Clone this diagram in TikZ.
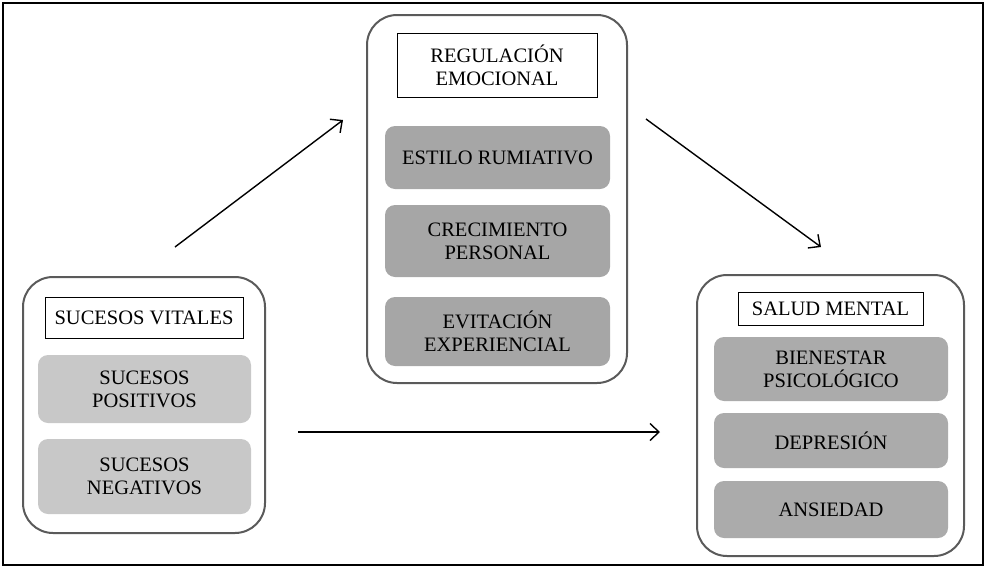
\documentclass[tikz,border=0pt]{standalone}
\usepackage{fontspec}
\setmainfont{Liberation Serif}
\usetikzlibrary{arrows.meta}
\definecolor{grisclaro}{RGB}{200,200,200}
\definecolor{grisoscuro}{RGB}{166,166,166}
\definecolor{grismedio}{RGB}{171,171,171}
\definecolor{borde}{RGB}{90,90,90}
\begin{document}
\begin{tikzpicture}[x=1pt,y=-1pt,
    grupo/.style={draw=borde,line width=2pt,rounded corners=30pt,inner sep=0pt},
    titulo/.style={draw=black,line width=0.9pt,fill=white,align=center,inner sep=0pt,
        font=\fontsize{20.5}{23}\selectfont},
    var/.style={rounded corners=10pt,align=center,inner sep=0pt,
        font=\fontsize{20.5}{23}\selectfont},
    flecha/.style={-{Straight Barb[length=9pt,width=17pt,line width=1.4pt]},line width=1.4pt}]
    \useasboundingbox (0,0) rectangle (986,568);
    \draw[line width=1.2pt] (3,3) rectangle (983,565);

    % the groups
    \node[grupo,minimum width=242pt,minimum height=256pt] (vitales) at (144,405) {};
    \node[grupo,minimum width=260pt,minimum height=368pt] (regulacion) at (497,199) {};
    \node[grupo,minimum width=267pt,minimum height=281pt] (salud) at (830.5,415.5) {};

    % the titles
    \node[titulo,minimum width=198pt,minimum height=41pt] (tvitales) at (144,317.5)
          {SUCESOS VITALES};
    \node[titulo,minimum width=200pt,minimum height=64pt] (tregulacion) at (497,65)
          {REGULACIÓN\\EMOCIONAL};
    \node[titulo,minimum width=185pt,minimum height=33pt] (tsalud) at (830.5,308.5)
          {SALUD MENTAL};

    % the variables
    \node[var,fill=grisclaro,minimum width=213pt,minimum height=68pt] (positivos)
          at (144.5,389) {SUCESOS\\POSITIVOS};
    \node[var,fill=grisclaro,minimum width=213pt,minimum height=75pt] (negativos)
          at (144.5,476.5) {SUCESOS\\NEGATIVOS};

    \node[var,fill=grisoscuro,minimum width=225pt,minimum height=63pt] (rumiativo)
          at (497.5,157.5) {ESTILO RUMIATIVO};
    \node[var,fill=grisoscuro,minimum width=225pt,minimum height=72pt] (crecimiento)
          at (497.5,241) {CRECIMIENTO\\PERSONAL};
    \node[var,fill=grisoscuro,minimum width=225pt,minimum height=69pt] (evitacion)
          at (497.5,331.5) {EVITACIÓN\\EXPERIENCIAL};

    \node[var,fill=grismedio,minimum width=234pt,minimum height=64pt] (bienestar)
          at (831,369) {BIENESTAR\\PSICOLÓGICO};
    \node[var,fill=grismedio,minimum width=234pt,minimum height=55pt] (depresion)
          at (831,440.5) {DEPRESIÓN};
    \node[var,fill=grismedio,minimum width=234pt,minimum height=57pt] (ansiedad)
          at (831,509.5) {ANSIEDAD};

    % the arrows
    \coordinate (a1) at (175,247);
    \coordinate (b1) at (343,120);
    \coordinate (a2) at (646,119);
    \coordinate (b2) at (821,247);
    \coordinate (a3) at (298,432);
    \coordinate (b3) at (660,432);
    \draw[flecha] (a1) -- (b1);
    \draw[flecha] (a2) -- (b2);
    \draw[flecha] (a3) -- (b3);

  \end{tikzpicture}
\end{document}
